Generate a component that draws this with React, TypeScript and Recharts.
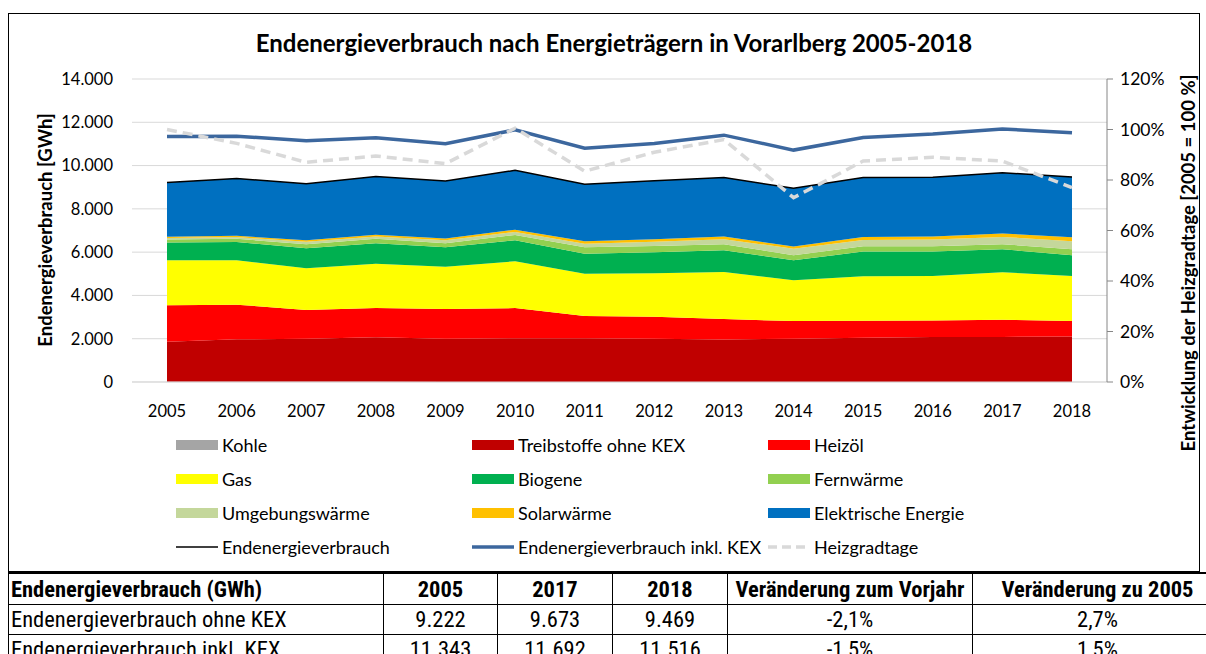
import React from 'react'
import {
  ComposedChart,
  Area,
  Line,
  XAxis,
  YAxis,
  CartesianGrid,
  Label,
} from 'recharts'

const years = ['2005', '2006', '2007', '2008', '2009', '2010', '2011', '2012', '2013', '2014', '2015', '2016', '2017', '2018']

const kohle = [10, 10, 10, 10, 5, 5, 5, 5, 5, 5, 5, 5, 5, 5]
const treibstoffe = [1850, 1960, 1990, 2060, 1990, 2020, 2020, 1990, 1960, 1990, 2040, 2070, 2080, 2100]
const heizoel = [1690, 1605, 1330, 1350, 1380, 1390, 1025, 1020, 945, 820, 785, 770, 790, 710]
const gas = [2080, 2055, 1930, 2040, 1955, 2165, 1955, 2010, 2175, 1885, 2055, 2055, 2195, 2085]
const biogene = [815, 835, 925, 955, 895, 970, 925, 970, 1005, 925, 1140, 1125, 1065, 955]
const fernwaerme = [140, 150, 185, 200, 185, 245, 295, 290, 280, 230, 250, 250, 230, 280]
const umgebungswaerme = [65, 80, 105, 105, 140, 140, 165, 200, 230, 305, 290, 305, 340, 370]
const solarwaerme = [60, 60, 80, 80, 75, 105, 110, 110, 120, 95, 140, 140, 155, 185]
const elektrisch = [2512, 2645, 2605, 2690, 2660, 2740, 2640, 2705, 2730, 2695, 2745, 2735, 2813, 2779]

const gesamt = [9222, 9400, 9160, 9490, 9285, 9780, 9140, 9300, 9450, 8950, 9450, 9455, 9673, 9469]
const inklKex = [11343, 11360, 11145, 11280, 11005, 11650, 10805, 11020, 11405, 10715, 11295, 11455, 11692, 11516]
const heizgradtage = [100, 94.5, 87, 89.5, 86.5, 100.5, 83.5, 91, 96, 73, 87.5, 89, 87.5, 77]

const leftTicks = [0, 2000, 4000, 6000, 8000, 10000, 12000, 14000]
const rightTicks = [0, 20, 40, 60, 80, 100, 120]

const areaSeries = [
  { key: 'kohle', name: 'Kohle', color: '#A5A5A5', values: kohle },
  { key: 'treib', name: 'Treibstoffe ohne KEX', color: '#C00000', values: treibstoffe },
  { key: 'heizoel', name: 'Heizöl', color: '#FF0000', values: heizoel },
  { key: 'gas', name: 'Gas', color: '#FFFF00', values: gas },
  { key: 'biogene', name: 'Biogene', color: '#00B050', values: biogene },
  { key: 'fern', name: 'Fernwärme', color: '#92D050', values: fernwaerme },
  { key: 'umgeb', name: 'Umgebungswärme', color: '#C4D79B', values: umgebungswaerme },
  { key: 'solar', name: 'Solarwärme', color: '#FFC000', values: solarwaerme },
  { key: 'elektr', name: 'Elektrische Energie', color: '#0070C0', values: elektrisch },
]

const tableHead = ['Endenergieverbrauch (GWh)', '2005', '2017', '2018', 'Veränderung zum Vorjahr', 'Veränderung zu 2005']
const tableRows = [
  ['Endenergieverbrauch ohne KEX', '9.222', '9.673', '9.469', '-2,1%', '2,7%'],
  ['Endenergieverbrauch inkl. KEX', '11.343', '11.692', '11.516', '-1,5%', '1,5%'],
]
const colWidths = [375, 114, 115, 115, 245, 250]

const data = years.map((year, i) => {
  const row: Record<string, number | string> = { year }
  areaSeries.forEach((s) => {
    row[s.key] = s.values[i]
  })
  row.gesamt = gesamt[i]
  row.inkl = inklKex[i]
  row.hgt = heizgradtage[i]
  return row
})

const font = 'Lato, "Open Sans", sans-serif'
const fmt = (v: number) => String(v).replace(/\B(?=(\d{3})+(?!\d))/g, '.')

type LegendItem = { name: string; color: string; kind: 'area' | 'line' | 'blue' | 'dash' }
const legendItems: LegendItem[] = [
  ...areaSeries.map((s) => ({ name: s.name, color: s.color, kind: 'area' as const })),
  { name: 'Endenergieverbrauch', color: '#000000', kind: 'line' },
  { name: 'Endenergieverbrauch inkl. KEX', color: '#3C679E', kind: 'blue' },
  { name: 'Heizgradtage', color: '#D9D9D9', kind: 'dash' },
]

function Swatch({ item }: { item: LegendItem }) {
  if (item.kind === 'area') {
    return <div style={{ width: 42, height: 10, background: item.color, flex: 'none' }} />
  }
  if (item.kind === 'dash') {
    return (
      <svg width={42} height={10} style={{ flex: 'none' }}>
        <line x1={0} y1={5} x2={42} y2={5} stroke={item.color} strokeWidth={3.5} strokeDasharray="9 5" />
      </svg>
    )
  }
  return (
    <svg width={42} height={10} style={{ flex: 'none' }}>
      <line x1={0} y1={5} x2={42} y2={5} stroke={item.color} strokeWidth={item.kind === 'blue' ? 3.5 : 1.5} />
    </svg>
  )
}

export default function App() {
  const colX = [176, 472, 768]
  return (
    <div style={{ position: 'absolute', left: 0, top: 0, width: 1206, height: 654, overflow: 'hidden', background: '#fff', fontFamily: font }}>
      <div style={{ position: 'absolute', left: 8, top: 13, width: 1190, height: 557, border: '1px solid #000' }} />
      <div style={{ position: 'absolute', left: 0, top: 27, width: 1228, textAlign: 'center', fontSize: 24, fontWeight: 700, lineHeight: '32px', color: '#000', whiteSpace: 'nowrap' }}>
        Endenergieverbrauch nach Energieträgern in Vorarlberg 2005-2018
      </div>
      <div style={{ position: 'absolute', left: 0, top: 0 }}>
        <ComposedChart width={1206} height={572} data={data} margin={{ top: 79, right: 0, bottom: 160, left: 0 }}>
          <CartesianGrid vertical={false} stroke="#D9D9D9" yAxisId="l" />
          <XAxis
            dataKey="year"
            padding={{ left: 35, right: 35 }}
            height={30}
            tickLine={false}
            axisLine={{ stroke: '#D9D9D9' }}
            tickMargin={17}
            tick={{ fontSize: 16.5, fill: '#000', fontFamily: font }}
            interval={0}
          />
          <YAxis
            yAxisId="l"
            width={132}
            domain={[0, 14000]}
            ticks={leftTicks}
            tickFormatter={fmt}
            axisLine={false}
            tickLine={false}
            tickSize={0}
            tickMargin={19}
            tick={{ fontSize: 16.5, fill: '#000', fontFamily: font }}
          >
            <Label
              content={() => (
                <text x={45} y={230} transform="rotate(-90 45 230)" textAnchor="middle" dominantBaseline="central" fontSize={18.5} fontWeight={700} fontFamily={font} fill="#000">
                  Endenergieverbrauch [GWh]
                </text>
              )}
            />
          </YAxis>
          <YAxis
            yAxisId="r"
            orientation="right"
            width={99}
            domain={[0, 120]}
            ticks={rightTicks}
            tickFormatter={(v: number) => `${v}%`}
            axisLine={{ stroke: '#868686' }}
            tickLine={{ stroke: '#868686' }}
            tickSize={6}
            tickMargin={7}
            tick={{ fontSize: 17.5, fill: '#000', fontFamily: font }}
          >
            <Label
              content={() => (
                <text x={1188} y={263} transform="rotate(-90 1188 263)" textAnchor="middle" dominantBaseline="central" fontSize={18.5} fontWeight={700} fontFamily={font} fill="#000">
                  Entwicklung der Heizgradtage [2005 = 100 %]
                </text>
              )}
            />
          </YAxis>
          {areaSeries.map((s) => (
            <Area
              key={s.key}
              yAxisId="l"
              type="linear"
              dataKey={s.key}
              name={s.name}
              stackId="1"
              stroke="none"
              fill={s.color}
              fillOpacity={1}
              isAnimationActive={false}
            />
          ))}
          <Line yAxisId="l" type="linear" dataKey="gesamt" stroke="#000" strokeWidth={1.5} dot={false} isAnimationActive={false} />
          <Line yAxisId="l" type="linear" dataKey="inkl" stroke="#3C679E" strokeWidth={3.5} dot={false} isAnimationActive={false} />
          <Line yAxisId="r" type="linear" dataKey="hgt" stroke="#D9D9D9" strokeWidth={3.5} strokeDasharray="10 6" dot={false} isAnimationActive={false} />
        </ComposedChart>
      </div>
      {legendItems.map((item, i) => {
        const col = i % 3
        const row = Math.floor(i / 3)
        return (
          <div
            key={item.name}
            style={{ position: 'absolute', left: colX[col], top: 445 + row * 34 - 12, height: 24, display: 'flex', alignItems: 'center', gap: 4, fontSize: 18, color: '#000', whiteSpace: 'nowrap' }}
          >
            <Swatch item={item} />
            <span>{item.name}</span>
          </div>
        )
      })}
      <table
        style={{ position: 'absolute', left: 8, top: 572, width: 1214, borderCollapse: 'collapse', fontFamily: '"Liberation Sans Narrow", "Roboto Condensed", Lato, sans-serif', fontSize: 22.5, color: '#000', tableLayout: 'fixed' }}
      >
        <colgroup>
          {colWidths.map((w, i) => (
            <col key={i} style={{ width: w }} />
          ))}
        </colgroup>
        <tbody>
          <tr style={{ height: 31 }}>
            {tableHead.map((h, i) => (
              <td key={i} style={{ border: '1px solid #000', borderTop: '2px solid #000', fontWeight: 700, textAlign: i === 0 ? 'left' : 'center', padding: '0 2px', whiteSpace: 'nowrap', lineHeight: '28px', overflow: 'hidden' }}>
                {h}
              </td>
            ))}
          </tr>
          {tableRows.map((r, ri) => (
            <tr key={ri} style={{ height: 30 }}>
              {r.map((c, i) => (
                <td key={i} style={{ border: '1px solid #000', textAlign: i === 0 ? 'left' : 'center', padding: '0 2px', whiteSpace: 'nowrap', lineHeight: '28px', overflow: 'hidden' }}>
                  {c}
                </td>
              ))}
            </tr>
          ))}
        </tbody>
      </table>
    </div>
  )
}
